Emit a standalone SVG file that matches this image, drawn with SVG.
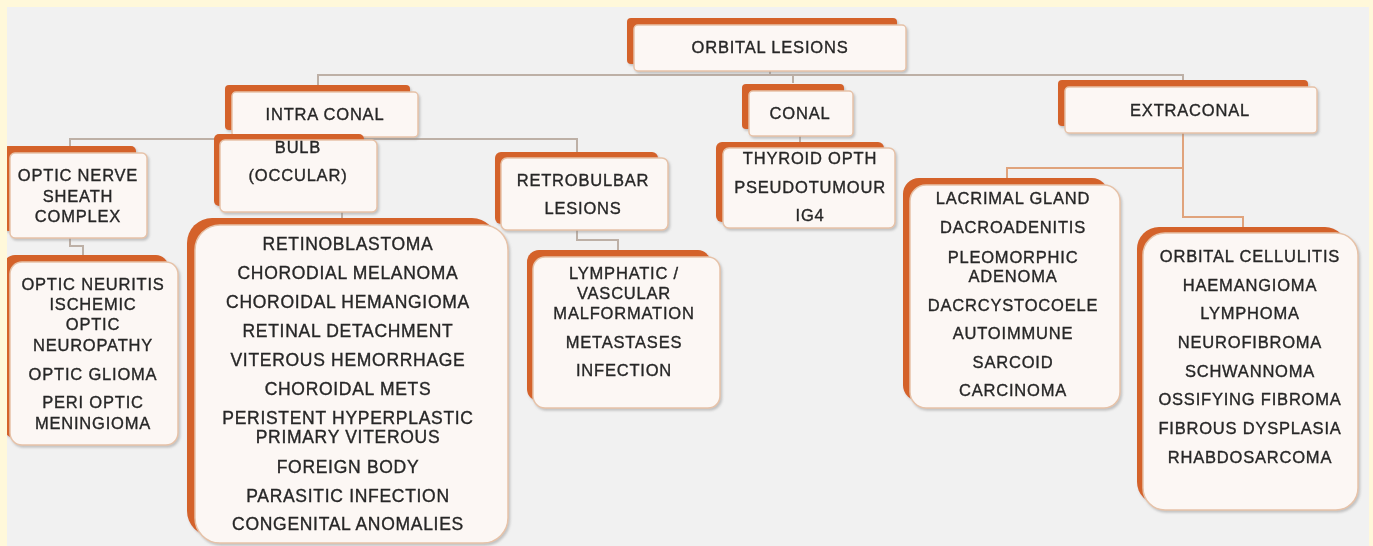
<svg xmlns="http://www.w3.org/2000/svg" width="1373" height="546" viewBox="0 0 1373 546">
<defs>
<style>
.bg{fill:#F1F1F1}
.frame{fill:#FFF8DA}
.sh{fill:#D4622A}
.bx{fill:#FCF7F4;stroke:#E6C2A8;stroke-width:1.5}
.t{font-family:"Liberation Sans",Arial,sans-serif;font-size:16.5px;letter-spacing:0.8px;fill:#262626;stroke:#262626;stroke-width:0.35px;text-anchor:middle}
.tb{font-size:17.5px;letter-spacing:0.7px}
.c{fill:none;stroke:#BDB0A6;stroke-width:2}
.ce{fill:none;stroke:#E0A37C;stroke-width:2}
</style>
<filter id="ds" x="-10%" y="-10%" width="120%" height="120%">
<feDropShadow dx="1.5" dy="2" stdDeviation="1.2" flood-color="#8a8a8a" flood-opacity="0.45"/>
</filter>
</defs>
<rect class="frame" x="0" y="0" width="1373" height="546"/>
<rect class="bg" x="7" y="7" width="1362" height="539"/>

<g id="connectors">
<path class="c" d="M770 71 V75 M318 85 V75 H1183 V80 M793 75 V83"/>
<path class="c" d="M325 137 V139 M70 147 V139 H577 V152"/>
<path class="c" d="M70 238 V246 H83 V255"/>
<path class="c" d="M342 212 V218"/>
<path class="c" d="M577 230 V240 H618 V250"/>
<path class="c" d="M800 136 V142"/>
<path class="ce" d="M1183 133 V217 H1243 V227 M1183 168 H1007 V178"/>
</g>

<g id="n-orbital" filter="url(#ds)">
<rect class="sh" x="627" y="18" width="270" height="46" rx="4"/>
<rect class="bx" x="634" y="25" width="272" height="46" rx="4"/>
<text class="t" x="770" y="53">ORBITAL LESIONS</text>
</g>

<g id="n-intraconal" filter="url(#ds)">
<rect class="sh" x="225" y="85" width="185" height="45" rx="4"/>
<rect class="bx" x="232" y="92" width="186" height="45" rx="4"/>
<text class="t" x="325" y="120">INTRA CONAL</text>
</g>

<g id="n-conal" filter="url(#ds)">
<rect class="sh" x="742" y="84" width="102" height="45" rx="4"/>
<rect class="bx" x="749" y="91" width="104" height="45" rx="4"/>
<text class="t" x="800" y="119">CONAL</text>
</g>

<g id="n-extraconal" filter="url(#ds)">
<rect class="sh" x="1058" y="80" width="250" height="46" rx="4"/>
<rect class="bx" x="1065" y="87" width="252" height="46" rx="4"/>
<text class="t" x="1190" y="116">EXTRACONAL</text>
</g>

<g id="n-optic-nerve" filter="url(#ds)">
<rect class="sh" x="3" y="146" width="133" height="85" rx="5"/>
<rect class="bx" x="10" y="153" width="137" height="85" rx="5"/>
<text class="t" x="78" y="181">OPTIC NERVE</text>
<text class="t" x="78" y="202">SHEATH</text>
<text class="t" x="78" y="222">COMPLEX</text>
</g>

<g id="n-bulb" filter="url(#ds)">
<rect class="sh" x="214" y="134" width="150" height="72" rx="5"/>
<rect class="bx" x="220" y="140" width="157" height="72" rx="5"/>
<text class="t" x="298" y="153">BULB</text>
<text class="t" x="298" y="181">(OCCULAR)</text>
</g>

<g id="n-retrobulbar" filter="url(#ds)">
<rect class="sh" x="495" y="152" width="163" height="72" rx="6"/>
<rect class="bx" x="501" y="158" width="167" height="72" rx="6"/>
<text class="t" x="583" y="186">RETROBULBAR</text>
<text class="t" x="583" y="214">LESIONS</text>
</g>

<g id="n-thyroid" filter="url(#ds)">
<rect class="sh" x="716" y="142" width="168" height="80" rx="6"/>
<rect class="bx" x="723" y="148" width="172" height="80" rx="6"/>
<text class="t" x="810" y="164">THYROID OPTH</text>
<text class="t" x="810" y="193">PSEUDOTUMOUR</text>
<text class="t" x="810" y="221">IG4</text>
</g>

<g id="n-optic-neuritis" filter="url(#ds)">
<rect class="sh" x="3" y="255" width="165" height="183" rx="12"/>
<rect class="bx" x="10" y="262" width="168" height="183" rx="12"/>
<text class="t" x="93" y="290">OPTIC NEURITIS</text>
<text class="t" x="93" y="310">ISCHEMIC</text>
<text class="t" x="93" y="330">OPTIC</text>
<text class="t" x="93" y="351">NEUROPATHY</text>
<text class="t" x="93" y="380">OPTIC GLIOMA</text>
<text class="t" x="93" y="408">PERI OPTIC</text>
<text class="t" x="93" y="429">MENINGIOMA</text>
</g>

<g id="n-ocular-list" filter="url(#ds)">
<rect class="sh" x="187" y="218" width="310" height="318" rx="25"/>
<rect class="bx" x="195" y="225" width="313" height="318" rx="25"/>
<text class="t tb" x="348" y="250">RETINOBLASTOMA</text>
<text class="t tb" x="348" y="279">CHORODIAL MELANOMA</text>
<text class="t tb" x="348" y="308">CHOROIDAL HEMANGIOMA</text>
<text class="t tb" x="348" y="337">RETINAL DETACHMENT</text>
<text class="t tb" x="348" y="366">VITEROUS HEMORRHAGE</text>
<text class="t tb" x="348" y="395">CHOROIDAL METS</text>
<text class="t tb" x="348" y="424">PERISTENT HYPERPLASTIC</text>
<text class="t tb" x="348" y="443">PRIMARY VITEROUS</text>
<text class="t tb" x="348" y="473">FOREIGN BODY</text>
<text class="t tb" x="348" y="502">PARASITIC INFECTION</text>
<text class="t tb" x="348" y="530">CONGENITAL ANOMALIES</text>
</g>

<g id="n-lymphatic" filter="url(#ds)">
<rect class="sh" x="527" y="250" width="183" height="151" rx="12"/>
<rect class="bx" x="533" y="257" width="187" height="151" rx="12"/>
<text class="t" x="624" y="279">LYMPHATIC /</text>
<text class="t" x="624" y="299">VASCULAR</text>
<text class="t" x="624" y="319">MALFORMATION</text>
<text class="t" x="624" y="348">METASTASES</text>
<text class="t" x="624" y="376">INFECTION</text>
</g>

<g id="n-lacrimal" filter="url(#ds)">
<rect class="sh" x="903" y="178" width="205" height="223" rx="16"/>
<rect class="bx" x="910" y="185" width="210" height="223" rx="16"/>
<text class="t" x="1013" y="204">LACRIMAL GLAND</text>
<text class="t" x="1013" y="233">DACROADENITIS</text>
<text class="t" x="1013" y="263">PLEOMORPHIC</text>
<text class="t" x="1013" y="282">ADENOMA</text>
<text class="t" x="1013" y="311">DACRCYSTOCOELE</text>
<text class="t" x="1013" y="339">AUTOIMMUNE</text>
<text class="t" x="1013" y="368">SARCOID</text>
<text class="t" x="1013" y="396">CARCINOMA</text>
</g>

<g id="n-orbital-cellulitis" filter="url(#ds)">
<rect class="sh" x="1137" y="227" width="210" height="277" rx="22"/>
<rect class="bx" x="1143" y="233" width="215" height="277" rx="22"/>
<text class="t" x="1250" y="262">ORBITAL CELLULITIS</text>
<text class="t" x="1250" y="291">HAEMANGIOMA</text>
<text class="t" x="1250" y="319">LYMPHOMA</text>
<text class="t" x="1250" y="348">NEUROFIBROMA</text>
<text class="t" x="1250" y="377">SCHWANNOMA</text>
<text class="t" x="1250" y="405">OSSIFYING FIBROMA</text>
<text class="t" x="1250" y="434">FIBROUS DYSPLASIA</text>
<text class="t" x="1250" y="463">RHABDOSARCOMA</text>
</g>

<path class="frame" fill-rule="evenodd" d="M0 0 H1373 V546 H0 Z M7 7 V546 H1369 V7 Z"/>
</svg>
